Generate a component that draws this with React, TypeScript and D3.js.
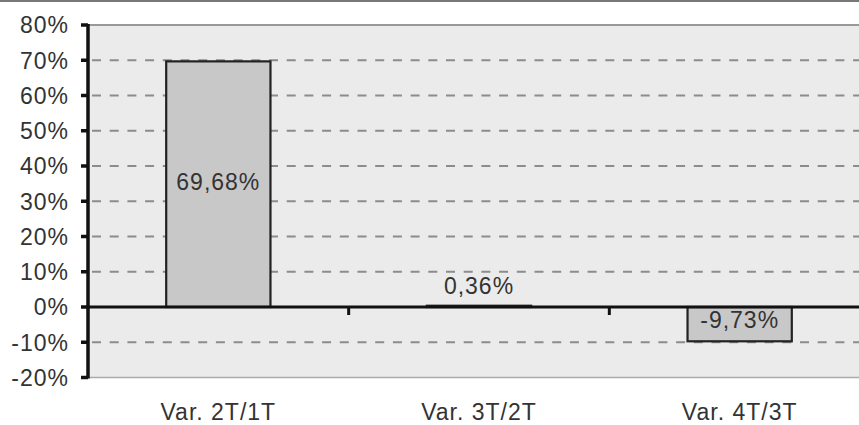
import React from "react";
import * as d3 from "d3";

const categories = ["Var. 2T/1T", "Var. 3T/2T", "Var. 4T/3T"];
const values = [69.68, 0.36, -9.73];
const valueLabels = ["69,68%", "0,36%", "-9,73%"];
const yTicks = [80, 70, 60, 50, 40, 30, 20, 10, 0, -10, -20];

export default function App() {
  const W = 859, H = 425;
  const left = 88, right = 870, top = 25, bottom = 377.5;
  const y = d3.scaleLinear().domain([-20, 80]).range([bottom, top]);
  const x = d3.scaleBand<string>().domain(categories).range([left, right]).paddingInner(0.6).paddingOuter(0.3);
  const band = d3.scaleBand<string>().domain(categories).range([left, right]);
  const font = "'Liberation Sans', Arial, sans-serif";
  const fs = 23;
  const ls = 1;
  const tc = "#333";
  const y0 = y(0);
  return (
    <svg width={W} height={H} style={{ position: "absolute", left: 0, top: 0, background: "#fff" }}>
      <line x1={0} x2={W} y1={1} y2={1} stroke="#777" strokeWidth={2} />
      <rect x={left} y={top} width={right - left} height={bottom - top} fill="#ebebeb" />
      <line x1={left} x2={right} y1={top} y2={top} stroke="#999" strokeWidth={2} />
      <line x1={left} x2={right} y1={bottom} y2={bottom} stroke="#aaa" strokeWidth={1.5} />
      {yTicks.filter(t => t !== 0 && t !== 80 && t !== -20).map(t => (
        <line key={t} x1={left} x2={right} y1={y(t)} y2={y(t)} stroke="#8c8c8c" strokeWidth={1.8} strokeDasharray="9,8.7" strokeDashoffset={-4} />
      ))}
      {values.map((v, i) => {
        const c = categories[i];
        const yt = y(Math.max(0, v)), yb = y(Math.min(0, v));
        return (
          <rect key={c} x={x(c)!} y={yt} width={x.bandwidth()} height={Math.max(0.5, yb - yt)} fill="#c8c8c8" stroke="#222" strokeWidth={2.2} />
        );
      })}
      <line x1={left} x2={right} y1={y0} y2={y0} stroke="#111" strokeWidth={3} />
      {categories.slice(1).map(c => (
        <line key={c} x1={band(c)!} x2={band(c)!} y1={y0} y2={y0 + 8} stroke="#111" strokeWidth={3} />
      ))}
      <line x1={left} x2={left} y1={top - 1} y2={bottom + 1} stroke="#111" strokeWidth={3.5} />
      {yTicks.map(t => (
        <g key={t}>
          <line x1={left - 7} x2={left} y1={y(t)} y2={y(t)} stroke="#111" strokeWidth={3.5} />
          <text x={69} y={y(t)} dy="0.36em" textAnchor="end" fontFamily={font} fontSize={fs} letterSpacing={ls} fill={tc}>{t}%</text>
        </g>
      ))}
      {values.map((v, i) => {
        const c = categories[i];
        const cx = x(c)! + x.bandwidth() / 2;
        let ty: number;
        if (v > 20) ty = y(v / 2) + 6;
        else if (v >= 0) ty = y(v) - 12;
        else ty = y0 + 21;
        return (
          <text key={c} x={cx} y={ty} textAnchor="middle" fontFamily={font} fontSize={fs} letterSpacing={ls} fill={tc}>{valueLabels[i]}</text>
        );
      })}
      {categories.map(c => (
        <text key={c} x={band(c)! + band.bandwidth() / 2} y={420} textAnchor="middle" fontFamily={font} fontSize={fs} letterSpacing={ls} fill={tc}>{c}</text>
      ))}
    </svg>
  );
}
